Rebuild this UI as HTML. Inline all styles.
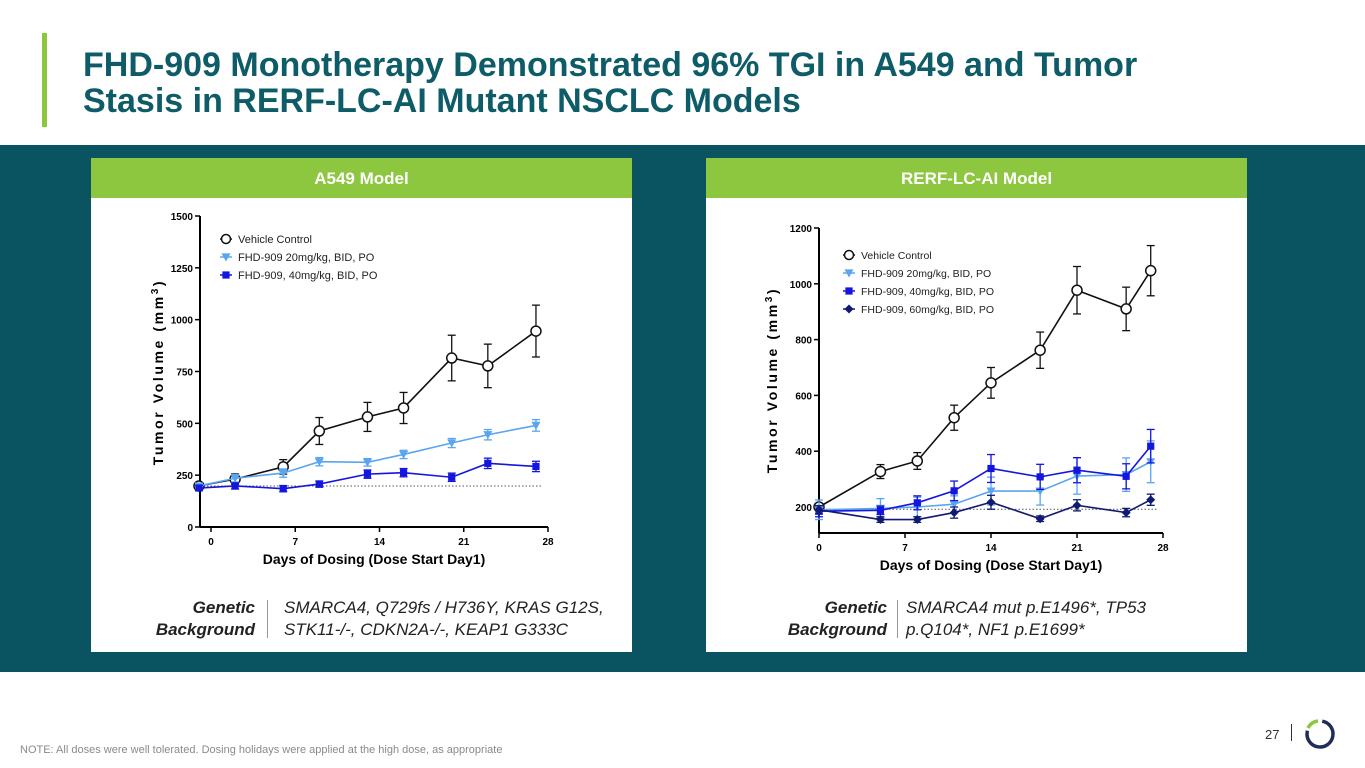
<!DOCTYPE html>
<html><head><meta charset="utf-8">
<style>
body{margin:0;width:1365px;height:768px;overflow:hidden;background:#fff;font-family:"Liberation Sans",Arial,sans-serif;position:relative}
.abs{position:absolute}
.title{left:83px;top:47px;font-size:34px;font-weight:bold;color:#0d5c68;line-height:36px}
.band{left:0;top:145px;width:1365px;height:527px;background:#0a5461}
.panel{top:158px;width:541px;height:494px;background:#fff}
.hdr{top:158px;height:40px;background:#8dc63f;color:#fff;font-weight:bold;font-size:17px;text-align:center;line-height:42px}
.gen{font-size:17px;font-style:italic;line-height:22px;color:#222}
.genl{font-weight:bold;text-align:right;width:100%}
svg text{font-family:"Liberation Sans",Arial,sans-serif}
</style></head><body>
<div class="abs" style="left:42px;top:33px;width:5px;height:94px;background:#8dc63f"></div>
<div class="abs title">FHD-909 Monotherapy Demonstrated 96% TGI in A549 and Tumor<br>Stasis in RERF-LC-AI Mutant NSCLC Models</div>
<div class="abs band"></div>
<div class="abs panel" style="left:91px"></div>
<div class="abs panel" style="left:706px"></div>
<div class="abs hdr" style="left:91px;width:541px">A549 Model</div>
<div class="abs hdr" style="left:706px;width:541px">RERF-LC-AI Model</div>
<svg class="abs" style="left:0;top:0" width="1365" height="768" id="charts"></svg>

<div class="abs gen" style="left:140px;top:597px;width:115px"><div class="genl">Genetic<br>Background</div></div>
<div class="abs" style="left:267px;top:600px;width:1px;height:38px;background:#999"></div>
<div class="abs gen" style="left:284px;top:597px">SMARCA4, Q729fs / H736Y, KRAS G12S,<br>STK11-/-, CDKN2A-/-, KEAP1 G333C</div>
<div class="abs gen" style="left:772px;top:597px;width:115px"><div class="genl">Genetic<br>Background</div></div>
<div class="abs" style="left:897px;top:600px;width:1px;height:38px;background:#999"></div>
<div class="abs gen" style="left:906px;top:597px">SMARCA4 mut p.E1496*, TP53<br>p.Q104*, NF1 p.E1699*</div>

<div class="abs" style="left:20px;top:744px;font-size:11px;color:#8a8a8a">NOTE: All doses were well tolerated. Dosing holidays were applied at the high dose, as appropriate</div>
<div class="abs" style="left:1265px;top:727px;font-size:13px;color:#333">27</div>
<div class="abs" style="left:1291px;top:724px;width:1px;height:17px;background:#333"></div>
<svg class="abs" style="left:1302px;top:716px" width="36" height="36">
<circle cx="18" cy="18" r="13" fill="none" stroke="#1f2d5a" stroke-width="3.5" stroke-dasharray="62 100" transform="rotate(-80 18 18)"/>
<path d="M6 12 A13 13 0 0 1 16 5" fill="none" stroke="#8dc63f" stroke-width="3.5"/>
</svg>

<script>
// A549 data
const aDays=[-1,2,6,9,13,16,20,23,27];
const aVeh=[198,231,290,463,531,574,815,777,945];
const aVehErr=[15,25,35,65,70,75,110,105,125];
const a20=[198,235,260,315,312,350,405,445,490];
const a20Err=[12,18,20,20,18,20,22,25,28];
const a40=[188,198,185,207,255,262,240,307,292];
const a40Err=[12,15,15,15,20,20,20,25,25];
const aYTicks=[0,250,500,750,1000,1250,1500];
const aXTicks=[0,7,14,21,28];
// RERF data
const rDays=[0,5,8,11,14,18,21,25,27];
const rVeh=[200,327,365,520,645,762,977,910,1047];
const rVehErr=[12,25,30,45,55,65,85,78,90];
const r20=[190,195,200,210,257,257,311,316,362];
const r20Err=[35,35,35,30,50,50,65,60,75];
const r40=[185,188,215,258,338,308,332,310,418];
const r40Err=[20,15,25,35,50,45,45,45,60];
const r60=[190,155,155,180,217,158,206,180,226];
const r60Err=[15,10,10,20,25,10,20,15,20];
const rYTicks=[200,400,600,800,1000,1200];
const rXTicks=[0,7,14,21,28];

const svg=document.getElementById('charts');
const NS='http://www.w3.org/2000/svg';
function mk(tag,attrs,parent){const e=document.createElementNS(NS,tag);for(const k in attrs)e.setAttribute(k,attrs[k]);(parent||svg).appendChild(e);return e;}

function marker(g,shape,x,y,col,s){
  if(shape==='circle')return mk('circle',{cx:x,cy:y,r:s,fill:'#fff',stroke:col,'stroke-width':1.5},g);
  if(shape==='tri')return mk('polygon',{points:`${x-s},${y-s*0.8} ${x+s},${y-s*0.8} ${x},${y+s}`,fill:col},g);
  if(shape==='sq')return mk('rect',{x:x-s*0.8,y:y-s*0.8,width:s*1.6,height:s*1.6,fill:col},g);
  return mk('polygon',{points:`${x},${y-s} ${x+s},${y} ${x},${y+s} ${x-s},${y}`,fill:col},g);
}

function chart(cfg){
  const g=mk('g',{});
  
  
  const X=d=>cfg.x0+(d-cfg.dmin)/(cfg.dmax-cfg.dmin)*(cfg.x1-cfg.x0);
  const Y=v=>cfg.y0-(v-cfg.vmin)/(cfg.vmax-cfg.vmin)*(cfg.y0-cfg.y1);
  const ax=cfg.axX;
  const yAxis=mk('line',{x1:ax,y1:Y(cfg.yTicks[cfg.yTicks.length-1]),x2:ax,y2:cfg.axBottom,stroke:'#000','stroke-width':2},g);
  
  
  const xAxis=mk('line',{x1:ax,y1:cfg.axBottom,x2:X(cfg.xTicks[cfg.xTicks.length-1]),y2:cfg.axBottom,stroke:'#000','stroke-width':2},g);
  
  
  cfg.yTicks.forEach(t=>{
    mk('line',{x1:ax-5,y1:Y(t),x2:ax,y2:Y(t),stroke:'#000','stroke-width':1.5},g);
    const tx=mk('text',{x:ax-7,y:Y(t)+4,'text-anchor':'end','font-size':10,'font-weight':'bold'},g);
    tx.textContent=t;
    
    
  });
  cfg.xTicks.forEach(t=>{
    mk('line',{x1:X(t),y1:cfg.axBottom,x2:X(t),y2:cfg.axBottom+5,stroke:'#000','stroke-width':1.5},g);
    const tx=mk('text',{x:X(t),y:cfg.axBottom+18,'text-anchor':'middle','font-size':10,'font-weight':'bold'},g);
    tx.textContent=t;
    
    
  });
  const xt=mk('text',{x:(ax+X(cfg.xTicks[cfg.xTicks.length-1]))/2,y:cfg.axBottom+37,'text-anchor':'middle','font-size':14,'font-weight':'bold'},g);
  xt.textContent='Days of Dosing (Dose Start Day1)';
  
  
  const yt=mk('text',{x:0,y:0,'text-anchor':'middle','font-size':14,'font-weight':'bold','letter-spacing':'2.6',transform:`translate(${cfg.ytX},${cfg.ytY}) rotate(-90)`},g);
  yt.innerHTML='Tumor Volume (mm<tspan dy="-5" font-size="10">3</tspan><tspan dy="5">)</tspan>';
  
  
  const bl=mk('line',{x1:ax,y1:Y(cfg.base),x2:X(cfg.dmax-0.5),y2:Y(cfg.base),stroke:'#555','stroke-width':1,'stroke-dasharray':'1.5 2'},g);
  
  
  cfg.series.forEach(s=>{
    const sg=mk('g',{},g);
    
    
    s.vals.forEach((v,i)=>{
      const x=X(cfg.days[i]);
      mk('line',{x1:x,y1:Y(v+s.err[i]),x2:x,y2:Y(v-s.err[i]),stroke:s.col,'stroke-width':1.3},sg);
      mk('line',{x1:x-4,y1:Y(v+s.err[i]),x2:x+4,y2:Y(v+s.err[i]),stroke:s.col,'stroke-width':1.3},sg);
      mk('line',{x1:x-4,y1:Y(v-s.err[i]),x2:x+4,y2:Y(v-s.err[i]),stroke:s.col,'stroke-width':1.3},sg);
    });
    mk('polyline',{points:s.vals.map((v,i)=>X(cfg.days[i])+','+Y(v)).join(' '),fill:'none',stroke:s.col,'stroke-width':1.6},sg);
    s.vals.forEach((v,i)=>{
      const m=marker(sg,s.shape,X(cfg.days[i]),Y(v),s.col,s.shape==='circle'?5:4.5);
      
      
    });
  });
  cfg.series.forEach((s,i)=>{
    const ly=cfg.legY+i*cfg.legDy;
    const lg=mk('g',{},g);
    
    
    mk('line',{x1:cfg.legX-6,y1:ly,x2:cfg.legX+6,y2:ly,stroke:s.col,'stroke-width':1.5},lg);
    marker(lg,s.shape,cfg.legX,ly,s.col,4.5);
    const t=mk('text',{x:cfg.legX+12,y:ly+4,'font-size':cfg.legFs,fill:'#222'},lg);
    t.textContent=s.label;
  });
}

chart({name:'a549-chart',days:aDays,dmin:0,dmax:28,x0:211,x1:548,vmin:0,vmax:1500,y0:527,y1:216,axX:200,axBottom:527,
  yTicks:aYTicks,xTicks:aXTicks,ytX:163,ytY:372,base:198,legX:226,legY:239,legDy:18,legFs:11,
  series:[
    {name:'vehicle-series',label:'Vehicle Control',vals:aVeh,err:aVehErr,col:'#111',shape:'circle'},
    {name:'fhd909-20mg-series',label:'FHD-909 20mg/kg, BID, PO',vals:a20,err:a20Err,col:'#5aa5ef',shape:'tri'},
    {name:'fhd909-40mg-series',label:'FHD-909, 40mg/kg, BID, PO',vals:a40,err:a40Err,col:'#1515e0',shape:'sq'}]});
chart({name:'rerf-chart',days:rDays,dmin:0,dmax:28,x0:819,x1:1163,vmin:200,vmax:1200,y0:507,y1:228,axX:819,axBottom:533,
  yTicks:rYTicks,xTicks:rXTicks,ytX:777,ytY:380,base:192,legX:849,legY:255,legDy:18,legFs:10.5,
  series:[
    {name:'vehicle-series',label:'Vehicle Control',vals:rVeh,err:rVehErr,col:'#111',shape:'circle'},
    {name:'fhd909-20mg-series',label:'FHD-909 20mg/kg, BID, PO',vals:r20,err:r20Err,col:'#5aa5ef',shape:'tri'},
    {name:'fhd909-40mg-series',label:'FHD-909, 40mg/kg, BID, PO',vals:r40,err:r40Err,col:'#1515e0',shape:'sq'},
    {name:'fhd909-60mg-series',label:'FHD-909, 60mg/kg, BID, PO',vals:r60,err:r60Err,col:'#101a70',shape:'dia'}]});
</script>
</body></html>
